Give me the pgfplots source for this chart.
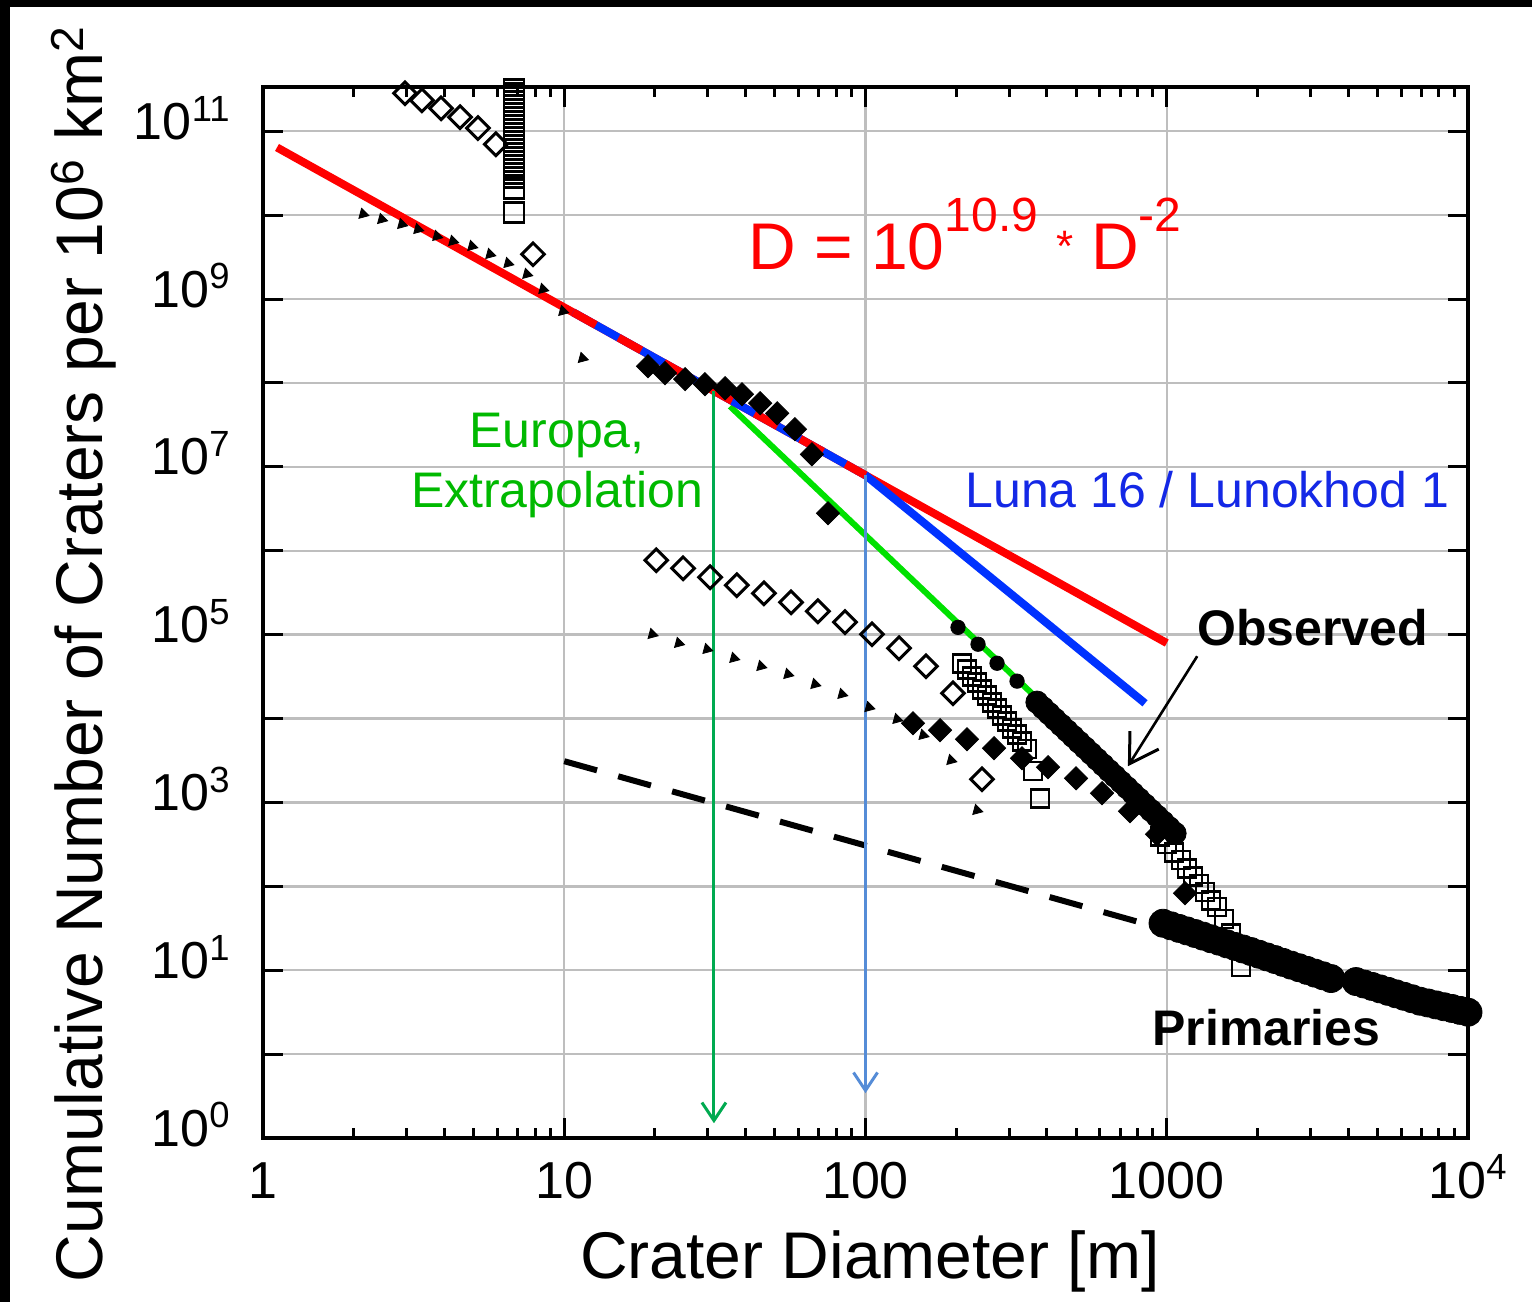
\documentclass[border=0pt]{standalone}
\usepackage{fontspec}
\setmainfont{Liberation Sans}
\usepackage{pgfplots}
\pgfplotsset{compat=1.18}
\usetikzlibrary{arrows.meta}

\definecolor{gridgray}{RGB}{190,190,190}
\definecolor{lred}{RGB}{255,0,0}
\definecolor{lblue}{RGB}{0,50,255}
\definecolor{lgreen}{RGB}{0,225,0}
\definecolor{tgreen}{RGB}{0,185,0}
\definecolor{tblue}{RGB}{20,40,230}
\definecolor{agreen}{RGB}{0,170,80}
\definecolor{ablue}{RGB}{85,140,215}

\begin{document}
\begin{tikzpicture}
% page background with the black edge of the scan
\fill[white] (0,0) rectangle (766pt,651pt);
\fill[black] (0,0) rectangle (5pt,651pt);
\fill[black] (0,647.5pt) rectangle (766pt,651pt);

\begin{axis}[
    at={(131.5pt,82pt)}, anchor=south west,
    scale only axis, width=602.5pt, height=525.5pt,
    xmode=log, ymode=log,
    xmin=1, xmax=10000, ymin=0.1, ymax=3.37e11,
    axis line style={line width=2pt},
    tick align=inside,
    xtick={1,10,100,1000,10000},
    xticklabels={1,10,100,1000,10\textsuperscript{4}},
    minor xtick={2,3,4,5,6,7,8,9,20,30,40,50,60,70,80,90,200,300,400,500,600,700,800,900,2000,3000,4000,5000,6000,7000,8000,9000},
    ytick={0.1,1,10,100,1000,1e4,1e5,1e6,1e7,1e8,1e9,1e10,1e11},
    yticklabels={10\textsuperscript{0},,10\textsuperscript{1},,10\textsuperscript{3},,10\textsuperscript{5},,10\textsuperscript{7},,10\textsuperscript{9},,10\textsuperscript{11}},
    yminorticks=false,
    major tick length=10pt, minor tick length=5pt,
    every tick/.style={black, line width=1.5pt},
    xmajorgrids, ymajorgrids,
    grid style={gridgray, line width=1.2pt},
    ticklabel style={font=\fontsize{26}{28}\selectfont, inner sep=0pt},
    xticklabel style={anchor=base, yshift=-30pt},
    yticklabel style={anchor=base east, xshift=-16pt, yshift=-4pt},
]

% primaries fit, dashed
\addplot[black, line width=3pt, dash pattern=on 17pt off 11pt] coordinates {(10,3100) (950,31.9)};

% small triangles, upper run
\addplot[only marks, mark=triangle*, mark size=3pt, mark options={black, rotate=15}] coordinates {
(2.15,1.03e10) (2.48,8.93e9) (2.89,7.79e9) (3.27,6.79e9) (3.78,5.61e9) (4.27,4.89e9)
(4.94,4.26e9) (5.67,3.42e9) (6.51,2.67e9) (7.52,1.98e9) (8.50,1.31e9) (9.90,7.16e8) (11.5,1.97e8)};
% small triangles, lower run
\addplot[only marks, mark=triangle*, mark size=3pt, mark options={black, rotate=15}] coordinates {
(19.6,1.01e5) (24.0,7.91e4) (29.8,6.70e4) (36.6,5.24e4) (45.0,4.20e4) (55.3,3.37e4)
(68.0,2.56e4) (83.6,1.95e4) (102.8,1.36e4) (127.3,9.82e3) (155.4,6.33e3) (192.3,3.18e3) (234.5,807)};

% open diamonds
\addplot[only marks, mark=square, mark size=4pt, mark options={black, fill=white, line width=1.5pt, rotate=45}] coordinates {
(2.96,2.84e11) (3.37,2.34e11) (3.90,1.88e11) (4.51,1.47e11) (5.17,1.09e11) (5.93,7.0e10) (7.88,3.42e9)};
\addplot[only marks, mark=square, mark size=4pt, mark options={black, fill=white, line width=1.5pt, rotate=45}] coordinates {
(20.2,7.71e5) (24.8,6.18e5) (30.5,4.83e5) (37.4,3.88e5) (46.0,3.11e5) (56.6,2.43e5)
(69.5,1.90e5) (85.5,1.41e5) (105.1,1.01e5) (129.2,6.89e4) (158.8,4.20e4) (195.2,2.00e4) (243.6,1.89e3)};

% filled diamonds
\addplot[only marks, mark=square*, mark size=4.1pt, mark options={black, fill=black, rotate=45}] coordinates {
(18.97,1.58e8) (21.6,1.31e8) (25.2,1.11e8) (29.3,9.66e7) (34.2,8.65e7) (38.9,7.33e7)
(44.7,5.73e7) (50.9,4.35e7) (58.3,2.81e7) (66.4,1.41e7) (75.1,2.80e6)};
\addplot[only marks, mark=square*, mark size=4.1pt, mark options={black, fill=black, rotate=45}] coordinates {
(143.8,8.79e3) (176.8,7.26e3) (217.2,5.67e3) (267.1,4.43e3) (330.9,3.36e3) (403.6,2.63e3)
(500.0,1.94e3) (609.8,1.29e3) (755.1,785) (928.5,418) (1150,82.8)};

% open squares, column at 6.8 m
\addplot[only marks, mark=square, mark size=5pt, mark options={black, fill=white, line width=1.3pt}] coordinates {
(6.81,3.17e11) (6.81,2.84e11) (6.81,2.54e11) (6.81,2.28e11) (6.81,2.04e11) (6.81,1.83e11)
(6.81,1.64e11) (6.81,1.47e11) (6.81,1.32e11) (6.81,1.18e11) (6.81,1.06e11) (6.81,9.47e10)
(6.81,8.48e10) (6.81,7.60e10) (6.81,6.81e10) (6.81,6.10e10) (6.81,5.47e10) (6.81,4.90e10)
(6.81,4.39e10) (6.81,3.93e10) (6.81,3.52e10) (6.81,3.16e10) (6.81,2.83e10) (6.81,2.09e10) (6.81,1.08e10)};
% open squares, 200-380 m
\addplot[only marks, mark=square, mark size=4.5pt, mark options={black, fill=white, line width=1.3pt}] coordinates {
(209.1,4.56e4) (217.2,3.82e4) (225.7,3.19e4) (234.5,2.67e4) (243.6,2.23e4) (253.1,1.87e4)
(263.0,1.56e4) (273.3,1.31e4) (283.9,1.09e4) (294.9,9.16e3) (306.4,7.66e3) (318.4,6.41e3)
(330.7,5.36e3) (343.6,4.31e3) (359.7,2.36e3) (379.6,1.12e3)};

% Europa extrapolation
\addplot[lgreen, line width=3pt] coordinates {(35.5,5.27e7) (379.6,1.61e4)};

% observed
\addplot[only marks, mark=*, mark size=3.6pt, mark options={black, fill=black}] coordinates {
(202.8,1.22e5) (236.3,7.69e4) (273.3,4.56e4) (318.4,2.79e4)};
\addplot[only marks, mark=*, mark size=5.6pt, mark options={black, fill=black}] coordinates {
(371.0,1.564e4) (388.3,1.338e4) (406.6,1.144e4) (425.6,9.78e3) (445.7,8.37e3) (466.6,7.15e3)
(488.5,6.12e3) (511.3,5.23e3) (535.3,4.48e3) (560.4,3.83e3) (586.8,3.27e3) (614.3,2.80e3)
(643.1,2.39e3) (673.3,2.05e3) (704.9,1.75e3) (737.9,1.50e3) (772.7,1.28e3) (809.0,1.095e3)
(846.9,936) (886.6,801) (928.2,685) (971.6,586) (1017,501) (1065,428)};

% primaries
\addplot[only marks, mark=*, mark size=7pt, mark options={black, fill=black}] coordinates {
(971.7,36.3) (1033,33.8) (1098,31.5) (1167,29.4) (1241,27.4) (1319,25.5) (1403,23.7)
(1491,22.2) (1585,20.6) (1685,19.2) (1791,17.9) (1904,16.7) (2024,15.5) (2151,14.4)
(2287,13.4) (2431,12.4) (2585,11.5) (2748,10.7) (2921,9.95) (3105,9.23) (3301,8.58) (3510,7.96)
(4249,7.33) (4516,6.85) (4801,6.41) (5104,5.99) (5426,5.60) (5768,5.23) (6131,4.89)
(6518,4.57) (6929,4.27) (7366,4.07) (7830,3.86) (8324,3.67) (8849,3.50) (9407,3.32) (10000,3.16)};

% open squares, 950-1760 m
\addplot[only marks, mark=square, mark size=4.5pt, mark options={black, fill=white, line width=1.3pt}] coordinates {
(949.7,395) (1002,318) (1057,255) (1115,205) (1167,164) (1222,132) (1280,106)
(1340,85.1) (1403,68.2) (1468,56.4) (1549,40.6) (1634,27.6) (1764,10.9)};

% power laws
\addplot[lred, line width=4pt] coordinates {(1.113,6.41e10) (1000,7.94e4)};
\addplot[lblue, line width=4pt] coordinates {(10.7,6.95e8) (100,7.94e6) (847,1.52e4)};
\addplot[lred, line width=4pt, dash pattern=on 13pt off 13pt] coordinates {(10.7,6.95e8) (100,7.94e6)};

% arrows
\addplot[agreen, line width=1.5pt, -{Straight Barb[length=9pt,width=12pt,line width=1.5pt]}] coordinates {(31.4,8.05e7) (31.4,0.15)};
\addplot[ablue, line width=1.5pt, -{Straight Barb[length=9pt,width=12pt,line width=1.5pt]}] coordinates {(100,7.94e6) (100,0.342)};
\addplot[black, line width=1.3pt, -{Straight Barb[length=14pt,width=17pt,line width=1.5pt]}] coordinates {(1262,5.53e4) (743,2.70e3)};
\end{axis}

% annotations in image pixel units
\begin{scope}[x=0.5pt, y=-0.5pt, shift={(0pt,651pt)}]
\node[anchor=base west, inner sep=0pt, text=lred, font=\fontsize{33}{36}\selectfont] at (748,270)
  {D = 10\raisebox{19pt}{\fontsize{24}{25}\selectfont 10.9}\hspace{9pt}\raisebox{4pt}{\fontsize{22}{22}\selectfont *}\hspace{9pt}D\raisebox{19pt}{\fontsize{24}{25}\selectfont -2}};
\node[anchor=base, inner sep=0pt, text=tgreen, font=\fontsize{25}{27}\selectfont] at (557,448) {Europa,};
\node[anchor=base, inner sep=0pt, text=tgreen, font=\fontsize{25}{27}\selectfont] at (557,508) {Extrapolation};
\node[anchor=base west, inner sep=0pt, text=tblue, font=\fontsize{25}{27}\selectfont] at (965,508) {Luna 16 / Lunokhod 1};
\node[anchor=base west, inner sep=0pt, font=\fontsize{25}{27}\selectfont\bfseries] at (1197,646) {Observed};
\node[anchor=base west, inner sep=0pt, font=\fontsize{25}{27}\selectfont\bfseries] at (1152,1046) {Primaries};
\node[anchor=base, inner sep=0pt, font=\fontsize{33}{36}\selectfont] at (870,1278) {Crater Diameter [m]};
\node[anchor=base, rotate=90, inner sep=0pt, font=\fontsize{33}{36}\selectfont] at (102,654)
  {Cumulative Number of Craters per 10\textsuperscript{6} km\textsuperscript{2}};
\end{scope}

\pgfresetboundingbox
\useasboundingbox (0,0) rectangle (766pt,651pt);
\end{tikzpicture}
\end{document}
